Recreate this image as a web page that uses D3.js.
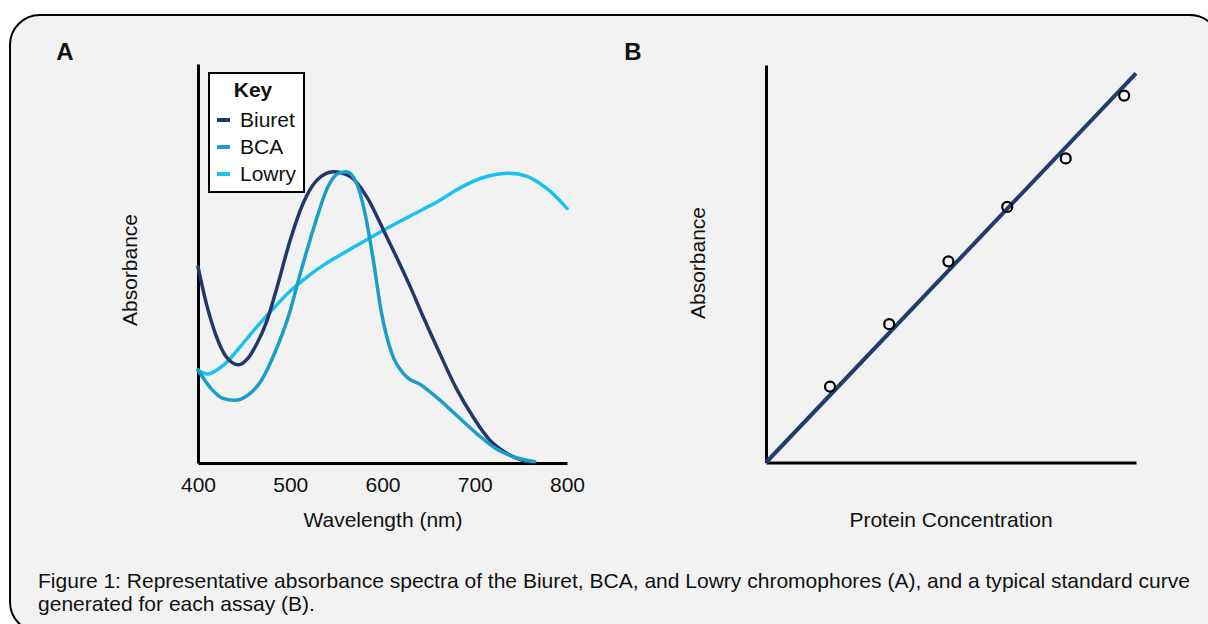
<!DOCTYPE html>
<html><head><meta charset="utf-8">
<script src="https://cdn.jsdelivr.net/npm/d3@7"></script>
<style>
html,body{margin:0;padding:0;background:#fff;}
svg text{font-family:"Liberation Sans",Arial,sans-serif;fill:#111;}
</style></head>
<body>
<svg id="c" width="1208" height="624"></svg>
<script>
// ---------- Data ----------
const wavelengthTicks = [400, 500, 600, 700, 800];
const seriesNames = ["Biuret", "BCA", "Lowry"];
const seriesColors = ["#24366b", "#1a9dc6", "#17c2f0"];

const biuretWl = [400,409,420,431,444,454,464,474,485,500,514,529,547,565,583,601,615,630,644,662,680,698,716,735,756];
const biuretAbs = [0.492,0.400,0.317,0.265,0.246,0.262,0.300,0.352,0.435,0.559,0.651,0.709,0.730,0.718,0.667,0.584,0.517,0.442,0.367,0.275,0.187,0.116,0.058,0.024,0.003];

const bcaWl = [400,414,427,440,454,469,483,498,512,527,541,552,561,572,581,590,599,610,624,642,660,682,704,725,747,765];
const bcaAbs = [0.233,0.187,0.162,0.157,0.170,0.208,0.275,0.367,0.484,0.601,0.693,0.726,0.730,0.701,0.626,0.509,0.375,0.275,0.221,0.195,0.162,0.116,0.070,0.033,0.012,0.003];

const lowryWl = [400,411,428,446,464,482,500,518,536,572,608,644,662,680,706,735,756,778,800];
const lowryAbs = [0.233,0.223,0.246,0.292,0.342,0.388,0.431,0.466,0.496,0.545,0.592,0.636,0.658,0.684,0.713,0.726,0.719,0.688,0.638];

const concentration = [0.173,0.333,0.493,0.652,0.810,0.968];
const standardAbs = [0.191,0.348,0.506,0.643,0.765,0.923];
const fitSlope = 0.979;

const captionLines = [
  "Figure 1: Representative absorbance spectra of the Biuret, BCA, and Lowry chromophores (A), and a typical standard curve",
  "generated for each assay (B)."
];

// ---------- Drawing ----------
const svg = d3.select("#c");
svg.append("rect").attr("x",10).attr("y",15).attr("width",1210).attr("height",617)
  .attr("rx",30).attr("ry",30).attr("fill","#f2f2f2").attr("stroke","#000").attr("stroke-width",2);

// Panel A
const xA = d3.scaleLinear().domain([400,800]).range([198,567]);
const yA = d3.scaleLinear().domain([0,1]).range([463,64]);

svg.append("text").attr("x",65).attr("y",60).attr("text-anchor","middle")
  .attr("font-size",24).attr("font-weight","bold").text("A");

const gxA = svg.append("g").attr("transform","translate(0,463)")
  .call(d3.axisBottom(xA).tickValues(wavelengthTicks).tickSize(0).tickSizeOuter(0).tickPadding(14));
gxA.select(".domain").attr("stroke","#000").attr("stroke-width",3);
gxA.selectAll(".tick text").attr("font-size",21).attr("fill","#111")
  .attr("font-family","Liberation Sans, Arial, sans-serif");

const gyA = svg.append("g").attr("transform","translate(198,0)")
  .call(d3.axisLeft(yA).tickValues([]).tickSize(0).tickSizeOuter(0));
gyA.select(".domain").attr("stroke","#000").attr("stroke-width",3);

svg.append("text").attr("x",383).attr("y",527).attr("text-anchor","middle")
  .attr("font-size",21).text("Wavelength (nm)");
svg.append("text").attr("transform","translate(137,270) rotate(-90)").attr("text-anchor","middle")
  .attr("font-size",21).text("Absorbance");

const seriesData = [
  biuretWl.map((w,i)=>[w,biuretAbs[i]]),
  bcaWl.map((w,i)=>[w,bcaAbs[i]]),
  lowryWl.map((w,i)=>[w,lowryAbs[i]])
];
const lineA = d3.line().x(d=>xA(d[0])).y(d=>yA(d[1])).curve(d3.curveMonotoneX);
const lineSmooth = d3.line().x(d=>xA(d[0])).y(d=>yA(d[1])).curve(d3.curveCatmullRom.alpha(0.5));
[2,0,1].forEach(k=>{
  svg.append("path").datum(seriesData[k]).attr("d", k===2 ? lineSmooth : lineA).attr("fill","none")
    .attr("stroke",seriesColors[k]).attr("stroke-width",3.5).attr("stroke-linecap","round");
});

// Legend
const lg = svg.append("g");
lg.append("rect").attr("x",209).attr("y",73).attr("width",95).attr("height",119)
  .attr("fill","#fff").attr("stroke","#000").attr("stroke-width",2);
lg.append("text").attr("x",253).attr("y",97).attr("text-anchor","middle")
  .attr("font-size",21).attr("font-weight","bold").text("Key");
seriesNames.forEach((n,i)=>{
  const yy = 120 + i*27;
  lg.append("line").attr("x1",217).attr("x2",230).attr("y1",yy).attr("y2",yy)
    .attr("stroke",seriesColors[i]).attr("stroke-width",4);
  lg.append("text").attr("x",240).attr("y",yy+6.5).attr("font-size",21).text(n);
});

// Panel B
const xB = d3.scaleLinear().domain([0,1]).range([766,1136]);
const yB = d3.scaleLinear().domain([0,1]).range([462.5,65]);

svg.append("text").attr("x",633).attr("y",60).attr("text-anchor","middle")
  .attr("font-size",24).attr("font-weight","bold").text("B");

const gxB = svg.append("g").attr("transform","translate(0,462.5)")
  .call(d3.axisBottom(xB).tickValues([]).tickSize(0).tickSizeOuter(0));
gxB.select(".domain").attr("stroke","#000").attr("stroke-width",3);
const gyB = svg.append("g").attr("transform","translate(766,0)")
  .call(d3.axisLeft(yB).tickValues([]).tickSize(0).tickSizeOuter(0));
gyB.select(".domain").attr("stroke","#000").attr("stroke-width",3);

svg.append("text").attr("x",951).attr("y",527).attr("text-anchor","middle")
  .attr("font-size",21).text("Protein Concentration");
svg.append("text").attr("transform","translate(705,263) rotate(-90)").attr("text-anchor","middle")
  .attr("font-size",21).text("Absorbance");

svg.append("path").datum([[0,0],[1,fitSlope]])
  .attr("d", d3.line().x(d=>xB(d[0])).y(d=>yB(d[1])))
  .attr("stroke","#253a6e").attr("stroke-width",4).attr("fill","none");

svg.selectAll("circle.pt").data(concentration.map((c,i)=>[c,standardAbs[i]])).enter()
  .append("circle").attr("class","pt").attr("cx",d=>xB(d[0])).attr("cy",d=>yB(d[1]))
  .attr("r",5).attr("fill","none").attr("stroke","#000").attr("stroke-width",2.2);

// Caption
const cap = svg.append("g");
const t1 = cap.append("text").attr("x",38).attr("y",588).attr("font-size",21).text(captionLines[0]);
const t2 = cap.append("text").attr("x",38).attr("y",611).attr("font-size",21).text(captionLines[1]);
const n1 = t1.node().getComputedTextLength();
const n2 = t2.node().getComputedTextLength();
const ratio = 1152 / n1;
t1.attr("textLength",1152).attr("lengthAdjust","spacingAndGlyphs");
t2.attr("textLength",n2*ratio).attr("lengthAdjust","spacingAndGlyphs");
</script>
</body></html>
